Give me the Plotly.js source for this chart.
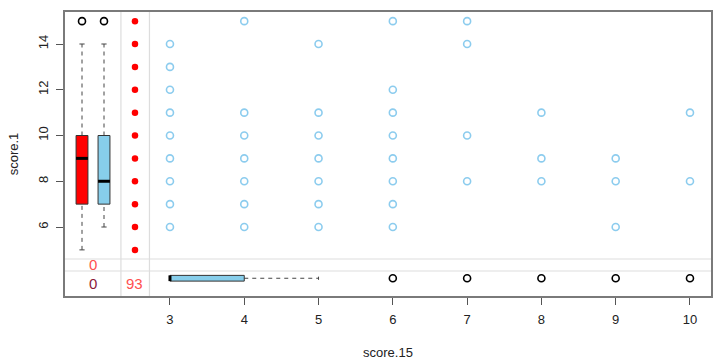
<!DOCTYPE html>
<html>
<head>
<meta charset="utf-8">
<script src="https://cdn.plot.ly/plotly-3.0.1.min.js"></script>
<style>html,body{margin:0;padding:0;background:#fff;}#chart{width:720px;height:364px;}</style>
</head>
<body>
<div id="chart"></div>
<script>
// ---- data ----
// observed pairs (score.15, score.1)
const scatterX = [3,3,3,3,3,3,3,3,3, 4,4,4,4,4,4,4, 5,5,5,5,5,5,5, 6,6,6,6,6,6,6,6, 7,7,7,7, 8,8,8, 9,9,9, 10,10];
const scatterY = [6,7,8,9,10,11,12,13,14, 6,7,8,9,10,11,15, 6,7,8,9,10,11,14, 6,7,8,9,10,11,12,15, 8,10,14,15, 8,9,11, 6,8,9, 8,11];
// score.1 values where score.15 is missing (red dots in the margin)
const missingXValuesY = [5,6,7,8,9,10,11,12,13,14,15];
// boxplot stats: [lower whisker, q1, median, q3, upper whisker]
const redBoxStats = [5,7,9,10,14];
const blueBoxStats = [6,7,8,10,14];
const redBoxOutliers = [15];
const blueBoxOutliers = [15];
const bottomBoxStats = [3,3,3,4,5];
const bottomBoxOutliers = [6,7,8,9,10];
// missing counts
const countMissingY = 0;
const countBothMissing = 0;
const countMissingX = 93;
const xTicks = [3,4,5,6,7,8,9,10];
const yTicks = [6,8,10,12,14];

// ---- layout positions (data units) ----
const xRange = [1.587, 10.283];
const yRange = [2.984, 15.399];
const redBoxX = 1.816, blueBoxX = 2.112, boxHalfW = 0.08, capHalfW = 0.035;
const redDotsX = 2.529;
const vLines = [2.34, 2.724];
const hLines = [4.601, 4.077];
const bottomBoxY = 3.76, bottomBoxHalfH = 0.125, bottomCapHalfH = 0.07;
const textRowMid = 4.34, textRowBottom = 3.52;
const countColX = 1.965;

const shapes = [];
vLines.forEach(v => shapes.push({type:'line', xref:'x', yref:'paper', x0:v, x1:v, y0:0, y1:1, line:{color:'#dddddd', width:1.2}, layer:'below'}));
hLines.forEach(h => shapes.push({type:'line', xref:'paper', yref:'y', x0:0, x1:1, y0:h, y1:h, line:{color:'#dddddd', width:1.2}, layer:'below'}));

const dashStyle = '4px,4px';
function vBox(xc, s, fill) {
  shapes.push({type:'line', x0:xc, x1:xc, y0:s[0], y1:s[1], line:{color:'#444', width:1, dash:dashStyle}});
  shapes.push({type:'line', x0:xc, x1:xc, y0:s[3], y1:s[4], line:{color:'#444', width:1, dash:dashStyle}});
  shapes.push({type:'line', x0:xc-capHalfW, x1:xc+capHalfW, y0:s[0], y1:s[0], line:{color:'#444', width:1}});
  shapes.push({type:'line', x0:xc-capHalfW, x1:xc+capHalfW, y0:s[4], y1:s[4], line:{color:'#444', width:1}});
  shapes.push({type:'rect', x0:xc-boxHalfW, x1:xc+boxHalfW, y0:s[1], y1:s[3], fillcolor:fill, line:{color:'#333', width:1}});
  shapes.push({type:'line', x0:xc-boxHalfW, x1:xc+boxHalfW, y0:s[2], y1:s[2], line:{color:'#000', width:3}});
}
vBox(redBoxX, redBoxStats, '#ff0000');
vBox(blueBoxX, blueBoxStats, '#87ceeb');

(function hBox(yc, s, fill){
  shapes.push({type:'line', x0:s[0], x1:s[1], y0:yc, y1:yc, line:{color:'#444', width:1, dash:dashStyle}});
  shapes.push({type:'line', x0:s[3], x1:s[4], y0:yc, y1:yc, line:{color:'#444', width:1, dash:dashStyle}});
  shapes.push({type:'line', x0:s[4], x1:s[4], y0:yc-bottomCapHalfH, y1:yc+bottomCapHalfH, line:{color:'#444', width:1}});
  shapes.push({type:'line', x0:s[0], x1:s[0], y0:yc-bottomCapHalfH, y1:yc+bottomCapHalfH, line:{color:'#444', width:1}});
  shapes.push({type:'rect', x0:s[1], x1:s[3], y0:yc-bottomBoxHalfH, y1:yc+bottomBoxHalfH, fillcolor:fill, line:{color:'#333', width:1}});
  shapes.push({type:'line', x0:s[2], x1:s[2], y0:yc-bottomBoxHalfH, y1:yc+bottomBoxHalfH, line:{color:'#000', width:3}});
})(bottomBoxY, bottomBoxStats, '#87ceeb');

const traces = [
  {type:'scatter', mode:'markers', x:scatterX, y:scatterY, hoverinfo:'x+y',
   marker:{symbol:'circle-open', size:7, color:'rgba(120,195,235,0.85)', line:{width:1.6}}},
  {type:'scatter', mode:'markers', x:missingXValuesY.map(()=>redDotsX), y:missingXValuesY,
   marker:{symbol:'circle', size:6.5, color:'#ff0000'}},
  {type:'scatter', mode:'markers', x:redBoxOutliers.map(()=>redBoxX).concat(blueBoxOutliers.map(()=>blueBoxX)),
   y:redBoxOutliers.concat(blueBoxOutliers),
   marker:{symbol:'circle-open', size:7, color:'#000', line:{width:1.6}}},
  {type:'scatter', mode:'markers', x:bottomBoxOutliers, y:bottomBoxOutliers.map(()=>bottomBoxY),
   marker:{symbol:'circle-open', size:7, color:'#000', line:{width:1.6}}}
];

const annotations = [
  {x:countColX, y:textRowMid, text:String(countMissingY), showarrow:false, font:{color:'#ff5050', size:15}},
  {x:countColX, y:textRowBottom, text:String(countBothMissing), showarrow:false, font:{color:'#8b1a3a', size:15}},
  {x:redDotsX, y:textRowBottom, text:String(countMissingX), showarrow:false, font:{color:'#ff5050', size:15}}
];

const layout = {
  width:720, height:364,
  margin:{l:65, r:9, t:12, b:68},
  paper_bgcolor:'#fff', plot_bgcolor:'#fff',
  showlegend:false,
  font:{family:'Liberation Sans, Arial, sans-serif', size:13, color:'#222'},
  xaxis:{range:xRange, tickvals:xTicks, ticktext:xTicks.map(String), ticks:'outside', ticklen:7, tickcolor:'#555', tickwidth:1,
         ticklabelstandoff:4,
         showgrid:false, zeroline:false, showline:true, mirror:true, linecolor:'#7a7a7a', linewidth:1.6,
         title:{text:'score.15', font:{size:13}, standoff:21}},
  yaxis:{range:yRange, tickvals:yTicks, ticktext:yTicks.map(String), ticks:'outside', ticklen:7, tickcolor:'#555', tickwidth:1, tickangle:-90,
         ticklabelstandoff:3,
         showgrid:false, zeroline:false, showline:true, mirror:true, linecolor:'#7a7a7a', linewidth:1.6,
         title:{text:'score.1', font:{size:13}, standoff:14}},
  shapes:shapes,
  annotations:annotations
};
Plotly.newPlot('chart', traces, layout, {displayModeBar:false, staticPlot:true});
</script>
</body>
</html>
